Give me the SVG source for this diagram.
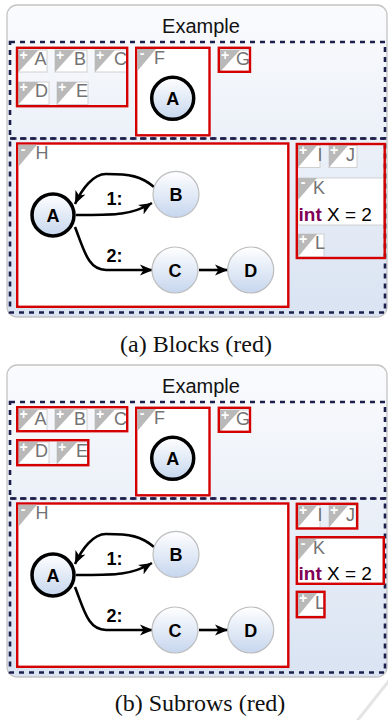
<svg xmlns="http://www.w3.org/2000/svg" width="388" height="720" viewBox="0 0 388 720">
<defs>
<linearGradient id="bg" x1="0" y1="0" x2="0" y2="1">
<stop offset="0" stop-color="#fafbfd"/>
<stop offset="1" stop-color="#d9e3f2"/>
</linearGradient>
<linearGradient id="ng" x1="0" y1="0" x2="0" y2="1">
<stop offset="0" stop-color="#ffffff"/>
<stop offset="1" stop-color="#c6d6ee"/>
</linearGradient>
<marker id="arr" markerUnits="userSpaceOnUse" markerWidth="14" markerHeight="12" refX="13" refY="6" orient="auto">
<path d="M0,0.5 L13,6 L0,11.5 L3.5,6 Z" fill="#000"/>
</marker>
<style>
.panel{fill:url(#bg);stroke:#c4c4c4;stroke-width:1.3}
.row{fill:none;stroke:#1c1e4c;stroke-width:2.6;stroke-dasharray:5 5}
.red{fill:none;stroke:#d40000;stroke-width:2.4}
.redw{fill:#fff;stroke:#d40000;stroke-width:2.4}
.item{fill:#fff;stroke:#d0d0d0;stroke-width:1}
.tri{fill:#b9b9b9}
.pm{fill:#fff;font-family:"Liberation Sans",Arial,sans-serif;font-weight:bold;font-size:14px;text-anchor:middle}
.lbl{fill:#737373;font-family:"Liberation Sans",Arial,sans-serif;font-size:18px}
.title{fill:#111;font-family:"Liberation Sans",Arial,sans-serif;font-size:20px;text-anchor:middle}
.cap{fill:#111;font-family:"Liberation Serif","Times New Roman",serif;font-size:24px;text-anchor:middle}
.node{fill:url(#ng);stroke:#bdbdbd;stroke-width:1.2}
.nodeb{fill:url(#ng);stroke:#000;stroke-width:3.5}
.nt{fill:#000;font-family:"Liberation Sans",Arial,sans-serif;font-weight:bold;font-size:18px;text-anchor:middle}
.edge{fill:none;stroke:#000;stroke-width:2.6;marker-end:url(#arr)}
.code{fill:#000;font-family:"Liberation Sans",Arial,sans-serif;font-size:19px}
.kw{fill:#7f0055;font-weight:bold}
</style>
</defs>

<!-- ============ Panel (a) ============ -->
<g id="a-frame">
<rect class="panel" x="7" y="5" width="380" height="312" rx="10"/>
<text class="title" x="201" y="33">Example</text>
<rect class="row" x="10" y="42" width="375" height="96.5"/>
<rect class="row" x="10" y="138.5" width="375" height="174"/>
</g>

<g id="a-items-row1">
<g id="a-A"><rect class="item" x="18.5" y="50" width="28.5" height="22"/><polygon class="tri" points="18.5,50 38.5,50 18.5,72"/><text class="pm" x="23.5" y="59.5">+</text><text class="lbl" x="34.5" y="65">A</text></g>
<g id="a-B"><rect class="item" x="55" y="50" width="32" height="22"/><polygon class="tri" points="55,50 75,50 55,72"/><text class="pm" x="60" y="59.5">+</text><text class="lbl" x="74" y="65">B</text></g>
<g id="a-C"><rect class="item" x="95" y="50" width="32" height="22"/><polygon class="tri" points="95,50 115,50 95,72"/><text class="pm" x="100" y="59.5">+</text><text class="lbl" x="114" y="65">C</text></g>
<g id="a-D"><rect class="item" x="18.5" y="82" width="30.5" height="22.5"/><polygon class="tri" points="18.5,82 38.5,82 18.5,104.5"/><text class="pm" x="23.5" y="91.5">+</text><text class="lbl" x="35" y="97">D</text></g>
<g id="a-E"><rect class="item" x="57" y="82" width="31" height="22.5"/><polygon class="tri" points="57,82 77,82 57,104.5"/><text class="pm" x="62" y="91.5">+</text><text class="lbl" x="76" y="97">E</text></g>
<g id="a-G"><rect class="item" x="220" y="50" width="30" height="22"/><polygon class="tri" points="220,50 240,50 220,72"/><text class="pm" x="225" y="59.5">+</text><text class="lbl" x="236" y="65">G</text></g>
</g>

<g id="a-block-ABCDE"><rect class="red" x="17" y="47.8" width="110.2" height="58.4"/></g>
<g id="a-block-G"><rect class="red" x="218.8" y="47.8" width="31.2" height="24"/></g>

<g id="a-F">
<rect class="redw" x="136.2" y="47.8" width="73.3" height="87.5"/>
<polygon class="tri" points="137.4,49 156,49 137.4,71"/>
<text class="pm" x="142" y="58">-</text>
<text class="lbl" x="154" y="63.5">F</text>
<circle class="nodeb" cx="172.7" cy="98.3" r="21"/>
<text class="nt" x="172.7" y="104.8">A</text>
</g>

<g id="a-H">
<rect class="redw" x="17.2" y="143.5" width="271.1" height="163.3"/>
<polygon class="tri" points="18.4,144.7 37,144.7 18.4,166.7"/>
<text class="pm" x="23" y="153.5">-</text>
<text class="lbl" x="35.5" y="159">H</text>
</g>
<g id="a-edges">
<path class="edge" d="M76,215 C112,215 130,216 152,203"/>
<path class="edge" d="M154,187 C141,176 130,174 106,174 C93,174 82,189 75,204"/>
<path class="edge" d="M75,227 C84,250 88,270 106,270 L153,270"/>
<path class="edge" d="M199,270 L228,270"/>
<text class="nt" x="114.5" y="205">1:</text>
<text class="nt" x="114.5" y="261.5">2:</text>
</g>
<g id="a-nA"><circle class="nodeb" cx="53" cy="215" r="21"/><text class="nt" x="53" y="221.5">A</text></g>
<g id="a-nB"><circle class="node" cx="176" cy="194.3" r="23"/><text class="nt" x="176" y="200.8">B</text></g>
<g id="a-nC"><circle class="node" cx="175" cy="270" r="23"/><text class="nt" x="175" y="276.5">C</text></g>
<g id="a-nD"><circle class="node" cx="250.7" cy="270" r="23"/><text class="nt" x="250.7" y="276.5">D</text></g>

<g id="a-I"><rect class="item" x="298" y="145.5" width="22" height="22"/><polygon class="tri" points="298,145.5 317,145.5 298,167.5"/><text class="pm" x="303" y="155">+</text><text class="lbl" x="317.5" y="160.5">I</text></g>
<g id="a-J"><rect class="item" x="329" y="145.5" width="28" height="22"/><polygon class="tri" points="329,145.5 348,145.5 329,167.5"/><text class="pm" x="334" y="155">+</text><text class="lbl" x="346" y="160.5">J</text></g>
<g id="a-K"><rect class="item" x="298" y="178" width="85.5" height="47"/><polygon class="tri" points="298,178 317,178 298,200"/><text class="pm" x="303" y="187">-</text><text class="lbl" x="313" y="194">K</text><text class="code" x="298.5" y="220.5"><tspan class="kw">int</tspan> X = 2</text></g>
<g id="a-L"><rect class="item" x="298" y="234" width="26" height="23"/><polygon class="tri" points="298,234 317,234 298,257"/><text class="pm" x="303" y="243.5">+</text><text class="lbl" x="315" y="249">L</text></g>
<g id="a-block-IJKL"><rect class="red" x="296.8" y="144" width="87.9" height="114"/></g>

<text id="cap-a" class="cap" x="196" y="352">(a) Blocks (red)</text>

<!-- ============ Panel (b) ============ -->
<g transform="translate(0,360)">
<g id="b-frame">
<rect class="panel" x="7" y="5" width="380" height="312" rx="10"/>
<text class="title" x="201" y="33">Example</text>
<rect class="row" x="10" y="42" width="375" height="96.5"/>
<rect class="row" x="10" y="138.5" width="375" height="174"/>
</g>

<g id="b-A"><rect class="item" x="18.5" y="49.5" width="28.5" height="21.5"/><polygon class="tri" points="18.5,49.5 38.5,49.5 18.5,71"/><text class="pm" x="23.5" y="59">+</text><text class="lbl" x="34.5" y="64.5">A</text></g>
<g id="b-B"><rect class="item" x="55" y="49.5" width="32" height="21.5"/><polygon class="tri" points="55,49.5 75,49.5 55,71"/><text class="pm" x="60" y="59">+</text><text class="lbl" x="74" y="64.5">B</text></g>
<g id="b-C"><rect class="item" x="95" y="49.5" width="32" height="21.5"/><polygon class="tri" points="95,49.5 115,49.5 95,71"/><text class="pm" x="100" y="59">+</text><text class="lbl" x="114" y="64.5">C</text></g>
<g id="b-subrow-ABC"><rect class="red" x="17.2" y="47.2" width="110" height="24"/></g>

<g id="b-D"><rect class="item" x="18.5" y="82" width="30.5" height="22"/><polygon class="tri" points="18.5,82 38.5,82 18.5,104"/><text class="pm" x="23.5" y="91.5">+</text><text class="lbl" x="35" y="97">D</text></g>
<g id="b-E"><rect class="item" x="57" y="82" width="31" height="22"/><polygon class="tri" points="57,82 77,82 57,104"/><text class="pm" x="62" y="91.5">+</text><text class="lbl" x="76" y="97">E</text></g>
<g id="b-subrow-DE"><rect class="red" x="17.2" y="80.2" width="71.1" height="25"/></g>

<g id="b-G"><rect class="item" x="220" y="50" width="30" height="22"/><polygon class="tri" points="220,50 240,50 220,72"/><text class="pm" x="225" y="59.5">+</text><text class="lbl" x="236" y="65">G</text></g>
<g id="b-subrow-G"><rect class="red" x="218.8" y="47.8" width="31.2" height="24"/></g>

<g id="b-F">
<rect class="redw" x="136.2" y="47.8" width="73.3" height="87.5"/>
<polygon class="tri" points="137.4,49 156,49 137.4,71"/>
<text class="pm" x="142" y="58">-</text>
<text class="lbl" x="154" y="63.5">F</text>
<circle class="nodeb" cx="172.7" cy="98.3" r="21"/>
<text class="nt" x="172.7" y="104.8">A</text>
</g>

<g id="b-H">
<rect class="redw" x="17.2" y="143.5" width="271.1" height="163.3"/>
<polygon class="tri" points="18.4,144.7 37,144.7 18.4,166.7"/>
<text class="pm" x="23" y="153.5">-</text>
<text class="lbl" x="35.5" y="159">H</text>
</g>
<g id="b-edges">
<path class="edge" d="M76,215 C112,215 130,216 152,203"/>
<path class="edge" d="M154,187 C141,176 130,174 106,174 C93,174 82,189 75,204"/>
<path class="edge" d="M75,227 C84,250 88,270 106,270 L153,270"/>
<path class="edge" d="M199,270 L228,270"/>
<text class="nt" x="114.5" y="205">1:</text>
<text class="nt" x="114.5" y="261.5">2:</text>
</g>
<g id="b-nA"><circle class="nodeb" cx="53" cy="215" r="21"/><text class="nt" x="53" y="221.5">A</text></g>
<g id="b-nB"><circle class="node" cx="176" cy="194.3" r="23"/><text class="nt" x="176" y="200.8">B</text></g>
<g id="b-nC"><circle class="node" cx="175" cy="270" r="23"/><text class="nt" x="175" y="276.5">C</text></g>
<g id="b-nD"><circle class="node" cx="250.7" cy="270" r="23"/><text class="nt" x="250.7" y="276.5">D</text></g>

<g id="b-I"><rect class="item" x="298" y="145.5" width="22" height="22"/><polygon class="tri" points="298,145.5 317,145.5 298,167.5"/><text class="pm" x="303" y="155">+</text><text class="lbl" x="317.5" y="160.5">I</text></g>
<g id="b-J"><rect class="item" x="329" y="145.5" width="27" height="22"/><polygon class="tri" points="329,145.5 348,145.5 329,167.5"/><text class="pm" x="334" y="155">+</text><text class="lbl" x="346" y="160.5">J</text></g>
<g id="b-subrow-IJ"><rect class="red" x="296.8" y="143.8" width="60.4" height="24.7"/></g>
<g id="b-K"><rect class="item" x="298" y="178.5" width="85" height="45"/><polygon class="tri" points="298,178.5 317,178.5 298,200.5"/><text class="pm" x="303" y="187.5">-</text><text class="lbl" x="313" y="194">K</text><text class="code" x="298.5" y="220"><tspan class="kw">int</tspan> X = 2</text></g>
<g id="b-subrow-K"><rect class="red" x="296.8" y="177.2" width="87" height="46.6"/></g>
<g id="b-L"><rect class="item" x="298" y="233" width="25.5" height="23"/><polygon class="tri" points="298,233 317,233 298,256"/><text class="pm" x="303" y="242.5">+</text><text class="lbl" x="315" y="248.5">L</text></g>
<g id="b-subrow-L"><rect class="red" x="296.8" y="231.8" width="27.7" height="25.4"/></g>
</g>

<text id="cap-b" class="cap" x="200" y="711">(b) Subrows (red)</text>
<line x1="357" y1="721" x2="392" y2="677" stroke="#e4e4e4" stroke-width="3"/>
</svg>
